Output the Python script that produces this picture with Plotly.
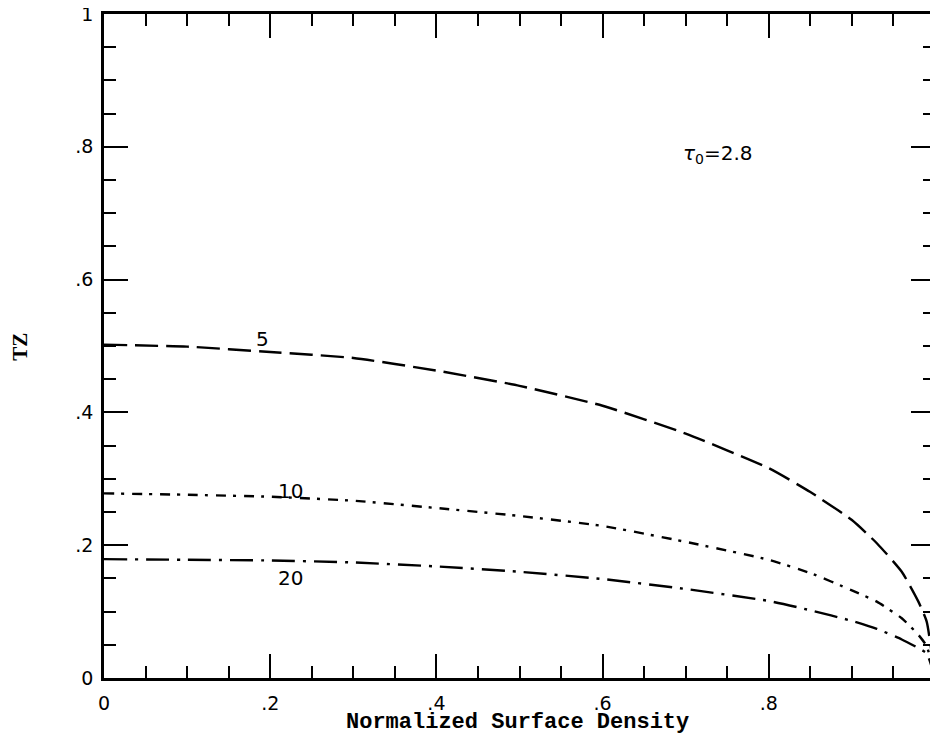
import plotly.graph_objects as go

# Data
x_vals = [0, 0.1, 0.2, 0.3, 0.4, 0.5, 0.6, 0.7, 0.8, 0.85, 0.9, 0.93, 0.96, 0.98, 0.99, 1.0]
tz_5 = [0.502, 0.499, 0.491, 0.482, 0.463, 0.440, 0.410, 0.368, 0.316, 0.280, 0.238, 0.203, 0.160, 0.115, 0.085, 0.0]
tz_10 = [0.278, 0.276, 0.273, 0.267, 0.256, 0.244, 0.229, 0.205, 0.178, 0.158, 0.132, 0.115, 0.090, 0.065, 0.048, 0.0]
tz_20 = [0.179, 0.178, 0.177, 0.174, 0.168, 0.160, 0.149, 0.134, 0.116, 0.102, 0.086, 0.074, 0.058, 0.045, 0.037, 0.0]

curve_labels = ["5", "10", "20"]
label_x = [0.191, 0.224, 0.224]
label_y = [0.511, 0.282, 0.150]

tick_vals = [0, 0.2, 0.4, 0.6, 0.8, 1]
tick_text = ["0", ".2", ".4", ".6", ".8", "1"]

fig = go.Figure()
styles = [
    (tz_5, "23px,8px"),
    (tz_10, "10px,7px,3px,8px"),
    (tz_20, "23px,8px,3px,8px"),
]
for ys, dash in styles:
    fig.add_trace(go.Scatter(x=x_vals, y=ys, mode="lines",
                             line=dict(color="black", width=2.4, dash=dash, shape="spline", smoothing=0.5),
                             showlegend=False, hoverinfo="skip"))

font_main = "DejaVu Sans"
for t, lx, ly in zip(curve_labels, label_x, label_y):
    fig.add_annotation(x=lx, y=ly, text=t, showarrow=False,
                       font=dict(family=font_main, size=20, color="black"))

fig.add_annotation(x=0.739, y=0.789, text="<i>τ</i><sub>0</sub>=2.8", showarrow=False,
                   font=dict(family=font_main, size=20, color="black"))

# Axis titles as annotations for precise placement
fig.add_annotation(xref="paper", yref="paper", x=0.497, y=-0.067, yanchor="middle",
                   text="<b>Normalized Surface Density</b>", showarrow=False,
                   font=dict(family="Liberation Mono", size=22, color="black"))
fig.add_annotation(xref="paper", yref="paper", x=-0.101, y=0.499, xanchor="center", yanchor="middle",
                   text="<b>TZ</b>", textangle=-90, showarrow=False,
                   font=dict(family="Liberation Serif", size=21, color="black"))

axis_common = dict(
    range=[0, 1], tickvals=tick_vals, ticktext=tick_text,
    ticks="inside", ticklen=24, tickwidth=2, tickcolor="black",
    showline=True, linewidth=2.5, linecolor="black", mirror="ticks",
    showgrid=False, zeroline=False, automargin=False, ticklabeloverflow="allow",
    minor=dict(dtick=0.05, tick0=0, ticks="inside", ticklen=12, tickwidth=2, tickcolor="black", showgrid=False),
    tickfont=dict(family=font_main, size=19, color="black"),
)

# The page body has an 8px margin, so the figure is offset by 8px; compensate.
fig.update_layout(
    width=930, height=728,
    margin=dict(l=96, r=3, t=6, b=58, autoexpand=False),
    paper_bgcolor="white", plot_bgcolor="white",
    xaxis=dict(**axis_common, ticklabelstandoff=6),
    yaxis=dict(**axis_common, ticklabelstandoff=4),
)

fig.write_html("out.html")
